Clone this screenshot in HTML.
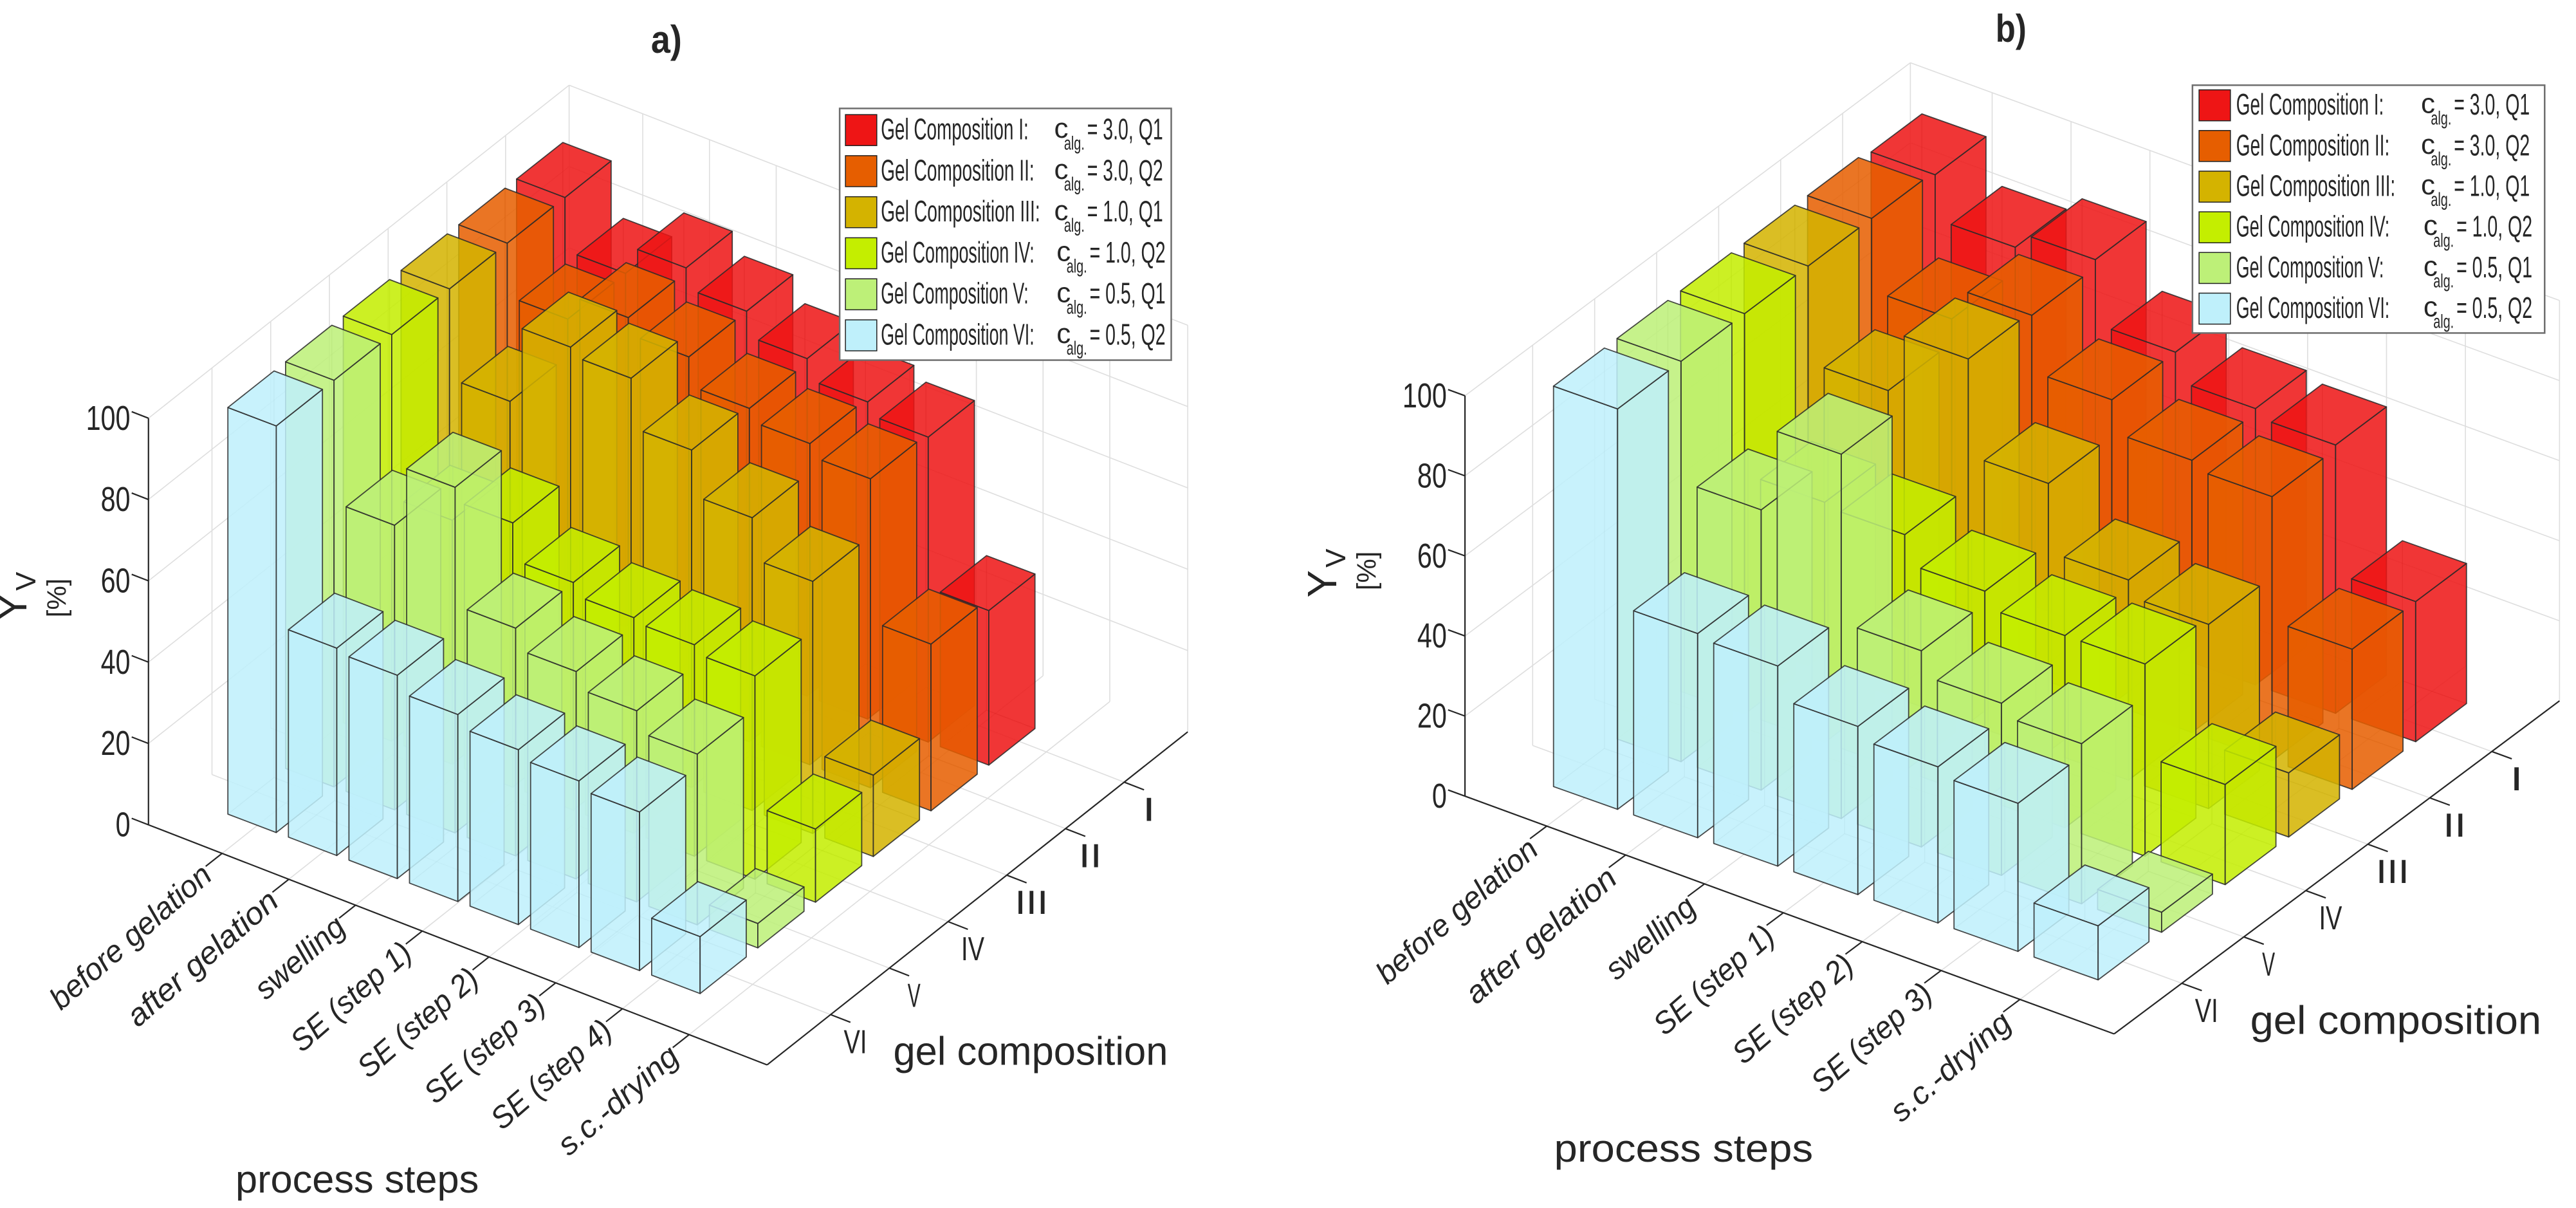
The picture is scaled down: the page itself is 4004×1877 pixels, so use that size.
<!DOCTYPE html>
<html><head><meta charset="utf-8"><title>Y_V 3D bar charts</title>
<style>html,body{margin:0;padding:0;background:#fff}svg{display:block}text{font-family:"Liberation Sans",sans-serif;fill:#262626}</style>
</head><body>
<svg id="chart" xmlns="http://www.w3.org/2000/svg" width="4004" height="1877" viewBox="0 0 4004 1877">
<rect x="0" y="0" width="4004" height="1877" fill="#ffffff"/>
</svg>
<script>
// ---------- data ----------
const stepsA = ['before gelation','after gelation','swelling','SE (step 1)','SE (step 2)','SE (step 3)','SE (step 4)','s.c.-drying'];
const stepsB = ['before gelation','after gelation','swelling','SE (step 1)','SE (step 2)','SE (step 3)','s.c.-drying'];
const compNames = ['I','II','III','IV','V','VI'];
const zTicks = [0,20,40,60,80,100];
const legendLabels = ['Gel Composition I:','Gel Composition II:','Gel Composition III:','Gel Composition IV:','Gel Composition V:','Gel Composition VI:'];
const legendValues = ['= 3.0, Q1','= 3.0, Q2','= 1.0, Q1','= 1.0, Q2','= 0.5, Q1','= 0.5, Q2'];
// chart a) values per gel composition
const aI   = [100, 87, 94, 89, 83, 78, 75, 38];
const aII  = [100, 87, 93, 89, 82, 79, 76, 41];
const aIII = [100, 78, 97, 95, 83, 72, 62, 20];
const aIV  = [100, 60, 65, 56, 53, 52, 50, 18];
const aV   = [100, 70, 85, 56, 51, 47, 42, 6];
const aVI  = [100, 51, 50, 46, 43, 41, 39, 14];
// chart b) values per gel composition
const bI   = [99, 88, 92, 76, 69, 67, 35];
const bII  = [100, 82, 90, 76, 68, 66, 35];
const bIII = [100, 76, 91, 67, 50, 46, 16];
const bIV  = [100, 60, 59, 52, 48, 48, 25];
const bV   = [100, 70, 91, 49, 43, 40, 5];
const bVI  = [100, 51, 50, 42, 39, 37, 13.5];
const seriesA = [aI, aII, aIII, aIV, aV, aVI];
const seriesB = [bI, bII, bIII, bIV, bV, bVI];

// ---------- styles / geometry ----------
const colors = ['#ee1515','#e65e00','#d4b300','#c4ee00','#bdf078','#bff0fb'];
const NS = 'http://www.w3.org/2000/svg';
const svg = document.getElementById('chart');
function mk(tag, attrs, parent){ const e=document.createElementNS(NS,tag); for(const k in attrs) e.setAttribute(k, attrs[k]); (parent||svg).appendChild(e); return e; }

const charts = [
 {key:'a', ox:0, L:[180,1065], F:[930,1375], R:[1440,945], zs:5.25, bar0:[333.6,1039.5], eu:[73.4,29.7], ev:[70,-59], w:0.8,
  pt:[0.119,0.874], ct:[0.151,0.849], steps:stepsA, series:seriesA, title:'a)', titlePos:[808,68],
  plOff:[-10,32], psPos:[433,1540], psW:295, gcPos:[1083,1375], gcW:333, yPos:[32,770], pctPos:[80,772],
  leg:{x0:1018,y0:140,x1:1420,y1:465,sq:1025,tx:1068,cx:1278,rowY:168,rowH:53}},
 {key:'b', ox:2004, L:[213,1028], F:[1000,1335], R:[1540,905], zs:5.17, bar0:[390,1005.7], eu:[97.1,36.7], ev:[77,-61.5], w:0.8,
  pt:[0.126,0.855], ct:[0.152,0.848], steps:stepsB, series:seriesB, title:'b)', titlePos:[875,54],
  plOff:[-8,34], psPos:[478,1500], psW:314, gcPos:[1165,1335], gcW:353, yPos:[57,740], pctPos:[105,737],
  leg:{x0:1095,y0:110,x1:1522,y1:430,sq:1103,tx:1148,cx:1372,rowY:136,rowH:52.5}}
];
const SX = 1/0.78, SY = 1/0.831;
function M(ch,p){ return [ch.ox + p[0]*SX, p[1]*SY]; }
function ps(ch, arr){ return arr.map(p=>{const q=M(ch,p); return q[0].toFixed(1)+','+q[1].toFixed(1);}).join(' '); }
function add(a,b){return [a[0]+b[0],a[1]+b[1]];}
function sub(a,b){return [a[0]-b[0],a[1]-b[1]];}
function mul(a,s){return [a[0]*s,a[1]*s];}
function norm(a){const l=Math.hypot(a[0],a[1]); return [a[0]/l,a[1]/l];}

charts.forEach(ch=>{
  const g = mk('g',{});
  
  
  const L=ch.L, F=ch.F, R=ch.R;
  const B = add(L, sub(R,F));
  const up = z=>[0,-z*ch.zs];
  const nP = ch.steps.length;
  const pf = i => ch.pt[0] + i*(ch.pt[1]-ch.pt[0])/(nP-1);
  const cf = i => ch.ct[0] + i*(ch.ct[1]-ch.ct[0])/5;
  const gridG = mk('g',{stroke:'#dedede','stroke-width':1.6,fill:'none'}, g);
  
  
  function line(par, a, b, attrs){ const q1=M(ch,a), q2=M(ch,b); return mk('line', Object.assign({x1:q1[0],y1:q1[1],x2:q2[0],y2:q2[1]}, attrs||{}), par); }
  zTicks.forEach(z=>{
    if(z===0) return;
    const l1 = line(gridG, add(L,up(z)), add(B,up(z)));
    
    const l2 = line(gridG, add(B,up(z)), add(R,up(z)));
    
  });
  const be1 = line(gridG, B, add(B,up(100)));
  
  const be2 = line(gridG, R, add(R,up(100)));
  
  for(let i=0;i<nP;i++){
    const f=pf(i); const base = add(L, mul(sub(F,L), f));
    const fl = line(gridG, base, add(base, sub(R,F)));
    
    const wb = add(B, mul(sub(F,L), f));
    const wl = line(gridG, wb, add(wb, up(100)));
    
  }
  for(let i=0;i<6;i++){
    const f=cf(i); const base = add(L, mul(sub(R,F), f));
    const fl = line(gridG, base, add(base, sub(F,L)));
    
    const wl = line(gridG, base, add(base, up(100)));
    
  }
  const axG = mk('g',{stroke:'#262626','stroke-width':2.2,fill:'none'}, g);
  
  
  const ax1 = line(axG, L, F); 
  const ax2 = line(axG, F, R); 
  const ax3 = line(axG, L, add(L,up(100))); 
  const dP = mul(norm(sub(F,R)), 26), dC = mul(norm(sub(F,L)), 26), dZ = mul(norm(sub(L,F)), 22);
  const txtG = mk('g',{}, g);
  
  
  zTicks.forEach(z=>{
    const p = add(L, up(z));
    const t = line(axG, p, add(p,dZ)); 
    const q = M(ch, [L[0]-22, p[1]]);
    const s = String(z);
    const tx = mk('text',{x:q[0],y:q[1]+18,'font-size':54,'text-anchor':'end',textLength:s.length*23,lengthAdjust:'spacingAndGlyphs'}, txtG);
    tx.textContent = s;
    
  });
  ch.steps.forEach((s,i)=>{
    const p = add(L, mul(sub(F,L), pf(i)));
    const t = line(axG, p, add(p,dP)); 
    const q = M(ch, add(p, ch.plOff));
    const tx = mk('text',{x:q[0],y:q[1],'font-size':48,'font-style':'italic','text-anchor':'end',textLength:s.length*21,lengthAdjust:'spacingAndGlyphs',transform:`rotate(-41 ${q[0]} ${q[1]})`}, txtG);
    tx.textContent = s;
    
  });
  for(let i=0;i<6;i++){
    const p = add(F, mul(sub(R,F), cf(i)));
    const t = line(axG, p, add(p,dC)); 
    const q = M(ch, add(p,[30,50]));
    const s = compNames[5-i];
    const tx = mk('text',{x:q[0],y:q[1],'font-size':52,'text-anchor':'middle',textLength:s.length*16+4,lengthAdjust:'spacingAndGlyphs'}, txtG);
    tx.textContent = s;
    
  }
  const items=[];
  ch.series.forEach((arr,ci)=>arr.forEach((z,pi)=>items.push({p:pi+1,ci:ci,d:5-ci,z:z})));
  items.sort((a,b)=> (a.p-a.d)-(b.p-b.d) || (b.d-a.d));
  const barG = mk('g',{}, g);
  
  
  const h = ch.w/2;
  items.forEach(it=>{
    const c = add(add(ch.bar0, mul(ch.eu, it.p-1)), mul(ch.ev, it.d));
    const fl = sub(sub(c, mul(ch.eu,h)), mul(ch.ev,h));
    const fr = sub(add(c, mul(ch.eu,h)), mul(ch.ev,h));
    const br = add(add(c, mul(ch.eu,h)), mul(ch.ev,h));
    const bl = add(sub(c, mul(ch.eu,h)), mul(ch.ev,h));
    const T = up(it.z);
    const flT=add(fl,T), frT=add(fr,T), brT=add(br,T), blT=add(bl,T);
    const bar = mk('g',{}, barG);
    
    
    const hid = mk('polyline',{points:ps(ch,[blT,bl,br]),fill:'none',stroke:'#555','stroke-opacity':0.35,'stroke-width':1.5}, bar);
    
    const h2 = mk('polyline',{points:ps(ch,[bl,fl]),fill:'none',stroke:'#555','stroke-opacity':0.35,'stroke-width':1.5}, bar);
    
    const faces = [[fl,fr,frT,flT],[fr,br,brT,frT],[flT,frT,brT,blT]];
    faces.forEach((f,k)=>{
      const pg = mk('polygon',{points:ps(ch,f),fill:colors[it.ci],'fill-opacity':0.86,stroke:'#2a2a2a','stroke-width':1.8,'stroke-opacity':0.85,'stroke-linejoin':'round'}, bar);
      
    });
  });
  let q = M(ch, ch.titlePos);
  const ti = mk('text',{x:q[0],y:q[1],'font-size':60,'font-weight':'bold','text-anchor':'middle',textLength:48,lengthAdjust:'spacingAndGlyphs'}, txtG);
  ti.textContent = ch.title;
  
  q = M(ch, ch.psPos);
  const pst = mk('text',{x:q[0],y:q[1],'font-size':60,'text-anchor':'middle',textLength:ch.psW*SX,lengthAdjust:'spacingAndGlyphs'}, txtG);
  pst.textContent = 'process steps';
  
  q = M(ch, ch.gcPos);
  const gct = mk('text',{x:q[0],y:q[1],'font-size':62,textLength:ch.gcW*SX,lengthAdjust:'spacingAndGlyphs'}, txtG);
  gct.textContent = 'gel composition';
  
  q = M(ch, ch.yPos);
  const yt = mk('text',{x:q[0],y:q[1],'font-size':64,'text-anchor':'middle',transform:`rotate(-90 ${q[0]} ${q[1]})`}, txtG);
  
  const ty1 = mk('tspan',{}, yt); ty1.textContent = 'Y';
  const ty2 = mk('tspan',{'font-size':44,dy:14,dx:4}, yt); ty2.textContent = 'V';
  q = M(ch, ch.pctPos);
  const pct = mk('text',{x:q[0],y:q[1],'font-size':42,'text-anchor':'middle',transform:`rotate(-90 ${q[0]} ${q[1]})`}, txtG);
  pct.textContent = '[%]';
  
  const lg = ch.leg;
  const legG = mk('g',{}, g);
  
  
  const a0 = M(ch,[lg.x0,lg.y0]), a1 = M(ch,[lg.x1,lg.y1]);
  const box = mk('rect',{x:a0[0],y:a0[1],width:a1[0]-a0[0],height:a1[1]-a0[1],fill:'#fff',stroke:'#6e6e6e','stroke-width':2.5}, legG);
  
  legendLabels.forEach((lab,k)=>{
    const cy = lg.rowY + k*lg.rowH;
    const e = mk('g',{}, legG);
    
    
    const s0 = M(ch,[lg.sq, cy-20]), s1 = M(ch,[lg.sq+38, cy+20]);
    const sw = mk('rect',{x:s0[0],y:s0[1],width:s1[0]-s0[0],height:s1[1]-s0[1],fill:colors[k],stroke:'#222','stroke-width':1.5}, e);
    
    const tp = M(ch,[lg.tx, cy+12]);
    const numLen = compNames[k].length;
    const t1 = mk('text',{x:tp[0],y:tp[1],'font-size':46,textLength:(172+7*numLen)*SX,lengthAdjust:'spacingAndGlyphs'}, e);
    t1.textContent = lab;
    
    const cx = lg.cx + (k>=3?3:0);
    const cp = M(ch,[cx, cy+10]);
    const t2 = mk('text',{x:cp[0],y:cp[1],'font-size':44}, e);
    t2.textContent = 'c';
    
    const sp = M(ch,[cx+12, cy+25]);
    const t3 = mk('text',{x:sp[0],y:sp[1],'font-size':30,textLength:32,lengthAdjust:'spacingAndGlyphs'}, e);
    t3.textContent = 'alg.';
    
    const vp = M(ch,[cx+40, cy+12]);
    const t4 = mk('text',{x:vp[0],y:vp[1],'font-size':46,textLength:92*SX,lengthAdjust:'spacingAndGlyphs'}, e);
    t4.textContent = legendValues[k];
    
  });
});
</script>
</body></html>
